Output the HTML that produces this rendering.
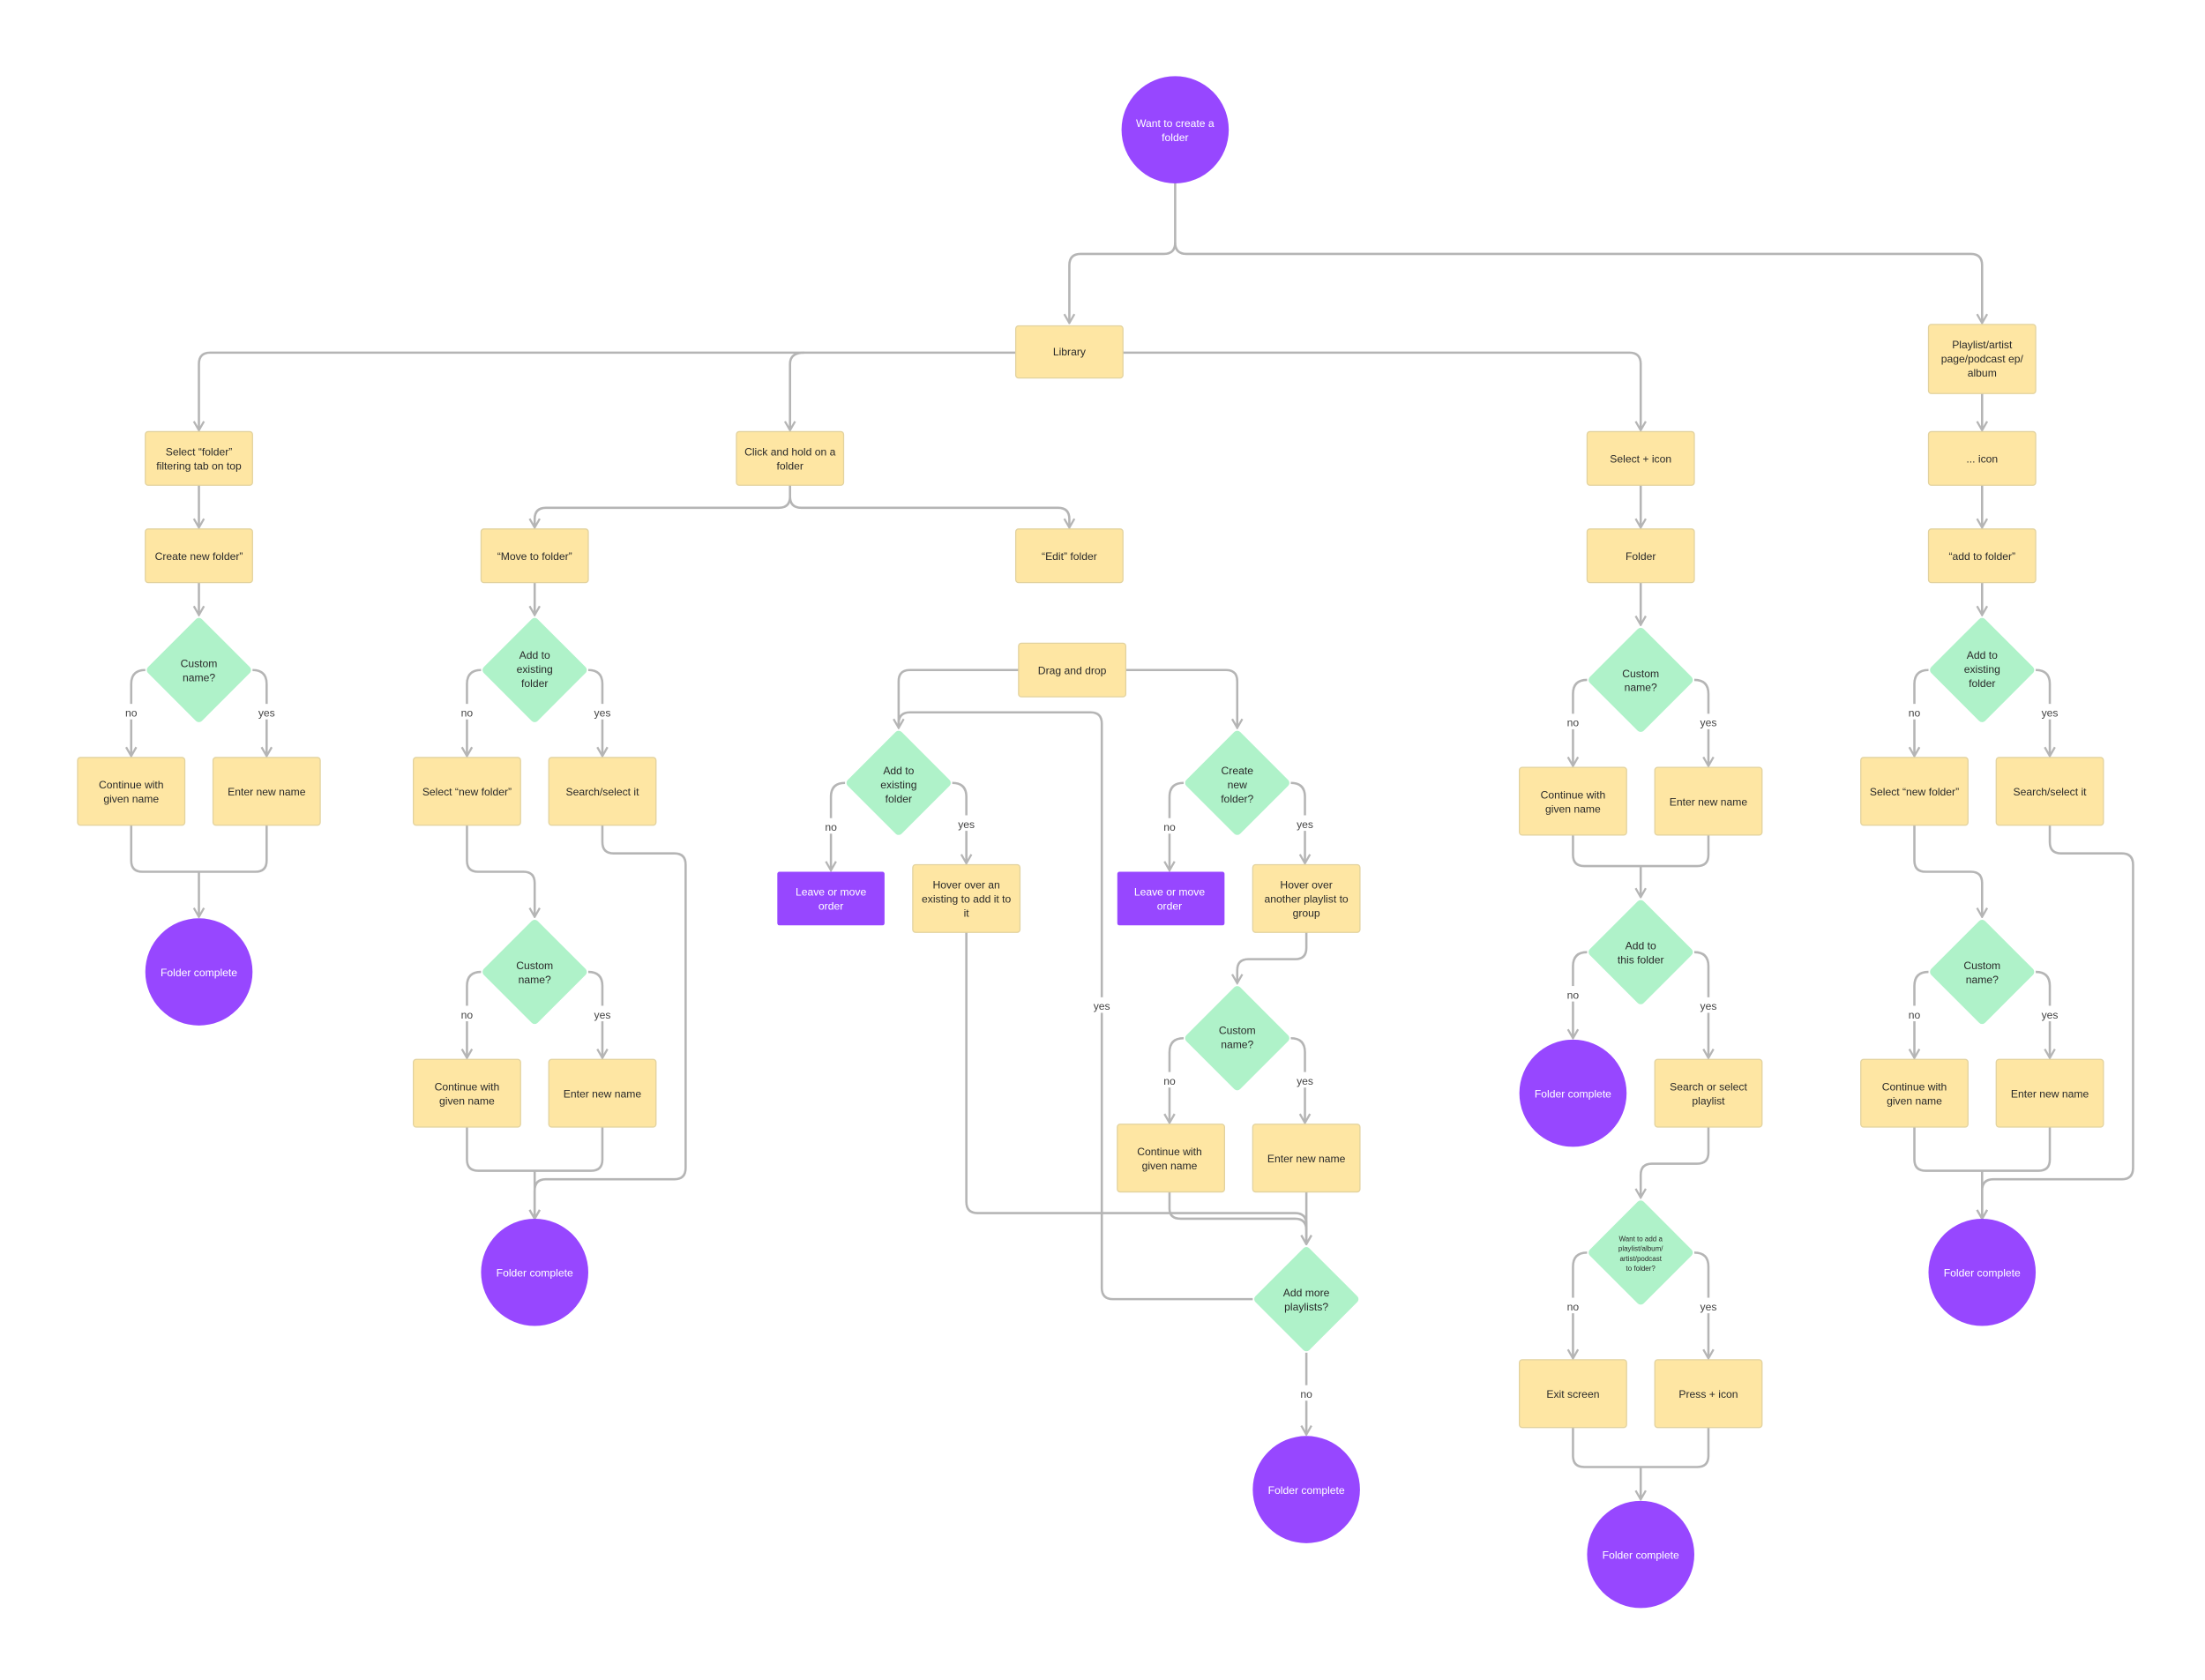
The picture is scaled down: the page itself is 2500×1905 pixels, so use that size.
<!DOCTYPE html>
<html><head><meta charset="utf-8"><style>
html,body{margin:0;padding:0;background:#fff;}
svg{display:block;}
text{font-family:"Liberation Sans",sans-serif;font-size:7.6px;fill:#2a2a2a;text-anchor:middle;}
.w{fill:#fff;}
.l{fill:#444;}
</style></head><body>
<svg width="2500" height="1905" viewBox="0 0 1563 1191" xmlns="http://www.w3.org/2000/svg">
<defs>
<marker id="a" viewBox="0 0 10 10" refX="9" refY="5" markerWidth="9" markerHeight="9" markerUnits="userSpaceOnUse" orient="auto">
<path d="M2,1 L9,5 L2,9" fill="none" stroke="#b5b5b5" stroke-width="1.6"/>
</marker>
</defs>
<rect width="1563" height="1191" fill="#fff"/>
<g fill="none" stroke="#b5b5b5" stroke-width="1.6" stroke-linejoin="round">
<path d="M833,130 V172 Q833,180 825,180 H766 Q758,180 758,188 V229" marker-end="url(#a)"/>
<path d="M833,172 Q833,180 841,180 H1397 Q1405,180 1405,188 V229" marker-end="url(#a)"/>
<path d="M720,250 H149 Q141,250 141,258 V305" marker-end="url(#a)"/>
<path d="M570,250 Q560,250 560,258 V305" marker-end="url(#a)"/>
<path d="M796,250 H1155 Q1163,250 1163,258 V305" marker-end="url(#a)"/>
<!-- col1 -->
<path d="M141,344 V374" marker-end="url(#a)"/>
<path d="M141,413 V436" marker-end="url(#a)"/>
<path d="M103,475 Q93,475 93,485 V536" marker-end="url(#a)"/>
<path d="M179,475 Q189,475 189,485 V536" marker-end="url(#a)"/>
<path d="M93,585 V610 Q93,618 101,618 H181 Q189,618 189,610 V585"/>
<path d="M141,618 V650" marker-end="url(#a)"/>
<!-- col2 -->
<path d="M560,344 V352 Q560,360 552,360 H387 Q379,360 379,368 V374" marker-end="url(#a)"/>
<path d="M560,352 Q560,360 568,360 H750 Q758,360 758,368 V374" marker-end="url(#a)"/>
<path d="M379,413 V436" marker-end="url(#a)"/>
<path d="M341,475 Q331,475 331,485 V536" marker-end="url(#a)"/>
<path d="M417,475 Q427,475 427,485 V536" marker-end="url(#a)"/>
<path d="M331,585 V610 Q331,618 339,618 H371 Q379,618 379,626 V650" marker-end="url(#a)"/>
<path d="M427,585 V597 Q427,605 435,605 H478 Q486,605 486,613 V828 Q486,836 478,836 H387 Q379,836 379,844 V864" marker-end="url(#a)"/>
<path d="M341,689 Q331,689 331,699 V750" marker-end="url(#a)"/>
<path d="M417,689 Q427,689 427,699 V750" marker-end="url(#a)"/>
<path d="M331,799 V822 Q331,830 339,830 H419 Q427,830 427,822 V799"/>
<path d="M379,830 V864" marker-end="url(#a)"/>
<!-- middle -->
<path d="M722,475 H645 Q637,475 637,483 V516" marker-end="url(#a)"/>
<path d="M798,475 H869 Q877,475 877,483 V516" marker-end="url(#a)"/>
<path d="M599,555 Q589,555 589,565 V617" marker-end="url(#a)"/>
<path d="M675,555 Q685,555 685,565 V612" marker-end="url(#a)"/>
<path d="M839,555 Q829,555 829,565 V617" marker-end="url(#a)"/>
<path d="M915,555 Q925,555 925,565 V612" marker-end="url(#a)"/>
<path d="M926,661 V672 Q926,680 918,680 H885 Q877,680 877,688 V697" marker-end="url(#a)"/>
<path d="M839,736 Q829,736 829,746 V796" marker-end="url(#a)"/>
<path d="M915,736 Q925,736 925,746 V796" marker-end="url(#a)"/>
<path d="M685,661 V852 Q685,860 693,860 H918 Q926,860 926,868 V882" marker-end="url(#a)"/>
<path d="M829,845 V857 Q829,864 837,864 H918 Q926,864 926,872"/>
<path d="M926,845 V882" marker-end="url(#a)"/>
<path d="M888,921 H789 Q781,921 781,913 V513 Q781,505 773,505 H645 Q637,505 637,513"/>
<path d="M926,959 V1017" marker-end="url(#a)"/>
<!-- right1 -->
<path d="M1163,344 V374" marker-end="url(#a)"/>
<path d="M1163,413 V443" marker-end="url(#a)"/>
<path d="M1125,482 Q1115,482 1115,492 V543" marker-end="url(#a)"/>
<path d="M1201,482 Q1211,482 1211,492 V543" marker-end="url(#a)"/>
<path d="M1115,592 V606 Q1115,614 1123,614 H1203 Q1211,614 1211,606 V592"/>
<path d="M1163,614 V636" marker-end="url(#a)"/>
<path d="M1125,675 Q1115,675 1115,685 V736" marker-end="url(#a)"/>
<path d="M1201,675 Q1211,675 1211,685 V750" marker-end="url(#a)"/>
<path d="M1211,799 V817 Q1211,825 1203,825 H1171 Q1163,825 1163,833 V849" marker-end="url(#a)"/>
<path d="M1125,888 Q1115,888 1115,898 V963" marker-end="url(#a)"/>
<path d="M1201,888 Q1211,888 1211,898 V963" marker-end="url(#a)"/>
<path d="M1115,1012 V1032 Q1115,1040 1123,1040 H1203 Q1211,1040 1211,1032 V1012"/>
<path d="M1163,1040 V1063" marker-end="url(#a)"/>
<!-- right2 -->
<path d="M1405,279 V305" marker-end="url(#a)"/>
<path d="M1405,344 V374" marker-end="url(#a)"/>
<path d="M1405,413 V436" marker-end="url(#a)"/>
<path d="M1367,475 Q1357,475 1357,485 V536" marker-end="url(#a)"/>
<path d="M1443,475 Q1453,475 1453,485 V536" marker-end="url(#a)"/>
<path d="M1357,585 V610 Q1357,618 1365,618 H1397 Q1405,618 1405,626 V650" marker-end="url(#a)"/>
<path d="M1453,585 V597 Q1453,605 1461,605 H1504 Q1512,605 1512,613 V828 Q1512,836 1504,836 H1413 Q1405,836 1405,844 V864" marker-end="url(#a)"/>
<path d="M1367,689 Q1357,689 1357,699 V750" marker-end="url(#a)"/>
<path d="M1443,689 Q1453,689 1453,699 V750" marker-end="url(#a)"/>
<path d="M1357,799 V822 Q1357,830 1365,830 H1445 Q1453,830 1453,822 V799"/>
<path d="M1405,830 V864" marker-end="url(#a)"/>
</g>

<!-- edge labels -->
<g>
<rect class="w" x="84" y="499" width="18" height="11"/><text class="l" x="93" y="508">no</text>
<rect class="w" x="180" y="499" width="18" height="11"/><text class="l" x="189" y="508">yes</text>
<rect class="w" x="322" y="499" width="18" height="11"/><text class="l" x="331" y="508">no</text>
<rect class="w" x="418" y="499" width="18" height="11"/><text class="l" x="427" y="508">yes</text>
<rect class="w" x="322" y="713" width="18" height="11"/><text class="l" x="331" y="722">no</text>
<rect class="w" x="418" y="713" width="18" height="11"/><text class="l" x="427" y="722">yes</text>
<rect class="w" x="580" y="580" width="18" height="11"/><text class="l" x="589" y="589">no</text>
<rect class="w" x="676" y="578" width="18" height="11"/><text class="l" x="685" y="587">yes</text>
<rect class="w" x="820" y="580" width="18" height="11"/><text class="l" x="829" y="589">no</text>
<rect class="w" x="916" y="578" width="18" height="11"/><text class="l" x="925" y="587">yes</text>
<rect class="w" x="820" y="760" width="18" height="11"/><text class="l" x="829" y="769">no</text>
<rect class="w" x="916" y="760" width="18" height="11"/><text class="l" x="925" y="769">yes</text>
<rect class="w" x="772" y="707" width="18" height="11"/><text class="l" x="781" y="716">yes</text>
<rect class="w" x="917" y="982" width="18" height="11"/><text class="l" x="926" y="991">no</text>
<rect class="w" x="1106" y="506" width="18" height="11"/><text class="l" x="1115" y="515">no</text>
<rect class="w" x="1202" y="506" width="18" height="11"/><text class="l" x="1211" y="515">yes</text>
<rect class="w" x="1106" y="699" width="18" height="11"/><text class="l" x="1115" y="708">no</text>
<rect class="w" x="1202" y="707" width="18" height="11"/><text class="l" x="1211" y="716">yes</text>
<rect class="w" x="1106" y="920" width="18" height="11"/><text class="l" x="1115" y="929">no</text>
<rect class="w" x="1202" y="920" width="18" height="11"/><text class="l" x="1211" y="929">yes</text>
<rect class="w" x="1348" y="499" width="18" height="11"/><text class="l" x="1357" y="508">no</text>
<rect class="w" x="1444" y="499" width="18" height="11"/><text class="l" x="1453" y="508">yes</text>
<rect class="w" x="1348" y="713" width="18" height="11"/><text class="l" x="1357" y="722">no</text>
<rect class="w" x="1444" y="713" width="18" height="11"/><text class="l" x="1453" y="722">yes</text>
</g>

<!-- yellow boxes -->
<g fill="#fee6a3" stroke="#e2d29e" stroke-width="0.8">
<rect x="720" y="231" width="76" height="37" rx="2"/>
<rect x="1367" y="230" width="76" height="49" rx="2"/>
<rect x="103" y="306" width="76" height="38" rx="2"/>
<rect x="103" y="375" width="76" height="38" rx="2"/>
<rect x="55" y="537" width="76" height="48" rx="2"/>
<rect x="151" y="537" width="76" height="48" rx="2"/>
<rect x="522" y="306" width="76" height="38" rx="2"/>
<rect x="341" y="375" width="76" height="38" rx="2"/>
<rect x="720" y="375" width="76" height="38" rx="2"/>
<rect x="293" y="537" width="76" height="48" rx="2"/>
<rect x="389" y="537" width="76" height="48" rx="2"/>
<rect x="293" y="751" width="76" height="48" rx="2"/>
<rect x="389" y="751" width="76" height="48" rx="2"/>
<rect x="722" y="456" width="76" height="38" rx="2"/>
<rect x="647" y="613" width="76" height="48" rx="2"/>
<rect x="888" y="613" width="76" height="48" rx="2"/>
<rect x="792" y="797" width="76" height="48" rx="2"/>
<rect x="888" y="797" width="76" height="48" rx="2"/>
<rect x="1125" y="306" width="76" height="38" rx="2"/>
<rect x="1125" y="375" width="76" height="38" rx="2"/>
<rect x="1077" y="544" width="76" height="48" rx="2"/>
<rect x="1173" y="544" width="76" height="48" rx="2"/>
<rect x="1173" y="751" width="76" height="48" rx="2"/>
<rect x="1077" y="964" width="76" height="48" rx="2"/>
<rect x="1173" y="964" width="76" height="48" rx="2"/>
<rect x="1367" y="306" width="76" height="38" rx="2"/>
<rect x="1367" y="375" width="76" height="38" rx="2"/>
<rect x="1319" y="537" width="76" height="48" rx="2"/>
<rect x="1415" y="537" width="76" height="48" rx="2"/>
<rect x="1319" y="751" width="76" height="48" rx="2"/>
<rect x="1415" y="751" width="76" height="48" rx="2"/>
</g>
<!-- purple boxes -->
<g fill="#9747ff">
<rect x="551" y="618" width="76" height="38" rx="1.5"/>
<rect x="792" y="618" width="76" height="38" rx="1.5"/>
</g>
<!-- diamonds -->
<g fill="#aff2c9">
<rect x="-27" y="-27" width="54" height="54" rx="3" transform="translate(141,475) rotate(45)"/>
<rect x="-27" y="-27" width="54" height="54" rx="3" transform="translate(379,475) rotate(45)"/>
<rect x="-27" y="-27" width="54" height="54" rx="3" transform="translate(379,689) rotate(45)"/>
<rect x="-27" y="-27" width="54" height="54" rx="3" transform="translate(637,555) rotate(45)"/>
<rect x="-27" y="-27" width="54" height="54" rx="3" transform="translate(877,555) rotate(45)"/>
<rect x="-27" y="-27" width="54" height="54" rx="3" transform="translate(877,736) rotate(45)"/>
<rect x="-27" y="-27" width="54" height="54" rx="3" transform="translate(926,921) rotate(45)"/>
<rect x="-27" y="-27" width="54" height="54" rx="3" transform="translate(1163,482) rotate(45)"/>
<rect x="-27" y="-27" width="54" height="54" rx="3" transform="translate(1163,675) rotate(45)"/>
<rect x="-27" y="-27" width="54" height="54" rx="3" transform="translate(1163,888) rotate(45)"/>
<rect x="-27" y="-27" width="54" height="54" rx="3" transform="translate(1405,475) rotate(45)"/>
<rect x="-27" y="-27" width="54" height="54" rx="3" transform="translate(1405,689) rotate(45)"/>
</g>
<!-- circles -->
<g fill="#9747ff">
<circle cx="833" cy="92" r="38"/>
<circle cx="141" cy="689" r="38"/>
<circle cx="379" cy="902" r="38"/>
<circle cx="926" cy="1056" r="38"/>
<circle cx="1115" cy="775" r="38"/>
<circle cx="1163" cy="1102" r="38"/>
<circle cx="1405" cy="902" r="38"/>
</g>

<!-- texts -->
<g style="fill:#fff">
<text x="833" y="90" style="fill:#fff">Want to create a</text>
<text x="833" y="100" style="fill:#fff">folder</text>
<text x="141" y="692" style="fill:#fff">Folder complete</text>
<text x="379" y="905" style="fill:#fff">Folder complete</text>
<text x="926" y="1059" style="fill:#fff">Folder complete</text>
<text x="1115" y="778" style="fill:#fff">Folder complete</text>
<text x="1163" y="1105" style="fill:#fff">Folder complete</text>
<text x="1405" y="905" style="fill:#fff">Folder complete</text>
<text x="589" y="635" style="fill:#fff">Leave or move</text>
<text x="589" y="645" style="fill:#fff">order</text>
<text x="829" y="635" style="fill:#fff">Leave or move</text>
<text x="829" y="645" style="fill:#fff">order</text>
</g>
<g>
<text x="758" y="252">Library</text>
<text x="1405" y="247">Playlist/artist</text>
<text x="1405" y="257">page/podcast ep/</text>
<text x="1405" y="267">album</text>
<text x="141" y="323">Select “folder”</text>
<text x="141" y="333">filtering tab on top</text>
<text x="141" y="397">Create new folder”</text>
<text x="141" y="473">Custom</text>
<text x="141" y="483">name?</text>
<text x="93" y="559">Continue with</text>
<text x="93" y="569">given name</text>
<text x="189" y="564">Enter new name</text>
<text x="560" y="323">Click and hold on a</text>
<text x="560" y="333">folder</text>
<text x="379" y="397">“Move to folder”</text>
<text x="758" y="397">“Edit” folder</text>
<text x="379" y="467">Add to</text>
<text x="379" y="477">existing</text>
<text x="379" y="487">folder</text>
<text x="331" y="564">Select “new folder”</text>
<text x="427" y="564">Search/select it</text>
<text x="379" y="687">Custom</text>
<text x="379" y="697">name?</text>
<text x="331" y="773">Continue with</text>
<text x="331" y="783">given name</text>
<text x="427" y="778">Enter new name</text>
<text x="760" y="478">Drag and drop</text>
<text x="637" y="549">Add to</text>
<text x="637" y="559">existing</text>
<text x="637" y="569">folder</text>
<text x="877" y="549">Create</text>
<text x="877" y="559">new</text>
<text x="877" y="569">folder?</text>
<text x="685" y="630">Hover over an</text>
<text x="685" y="640">existing to add it to</text>
<text x="685" y="650">it</text>
<text x="926" y="630">Hover over</text>
<text x="926" y="640">another playlist to</text>
<text x="926" y="650">group</text>
<text x="877" y="733">Custom</text>
<text x="877" y="743">name?</text>
<text x="829" y="819">Continue with</text>
<text x="829" y="829">given name</text>
<text x="926" y="824">Enter new name</text>
<text x="926" y="919">Add more</text>
<text x="926" y="929">playlists?</text>
<text x="1163" y="328">Select + icon</text>
<text x="1163" y="397">Folder</text>
<text x="1163" y="480">Custom</text>
<text x="1163" y="490">name?</text>
<text x="1115" y="566">Continue with</text>
<text x="1115" y="576">given name</text>
<text x="1211" y="571">Enter new name</text>
<text x="1163" y="673">Add to</text>
<text x="1163" y="683">this folder</text>
<text x="1211" y="773">Search or select</text>
<text x="1211" y="783">playlist</text>
<text x="1163" y="880" style="font-size:5px">Want to add a</text>
<text x="1163" y="887" style="font-size:5px">playlist/album/</text>
<text x="1163" y="894" style="font-size:5px">artist/podcast</text>
<text x="1163" y="901" style="font-size:5px">to folder?</text>
<text x="1115" y="991">Exit screen</text>
<text x="1211" y="991">Press + icon</text>
<text x="1405" y="328">... icon</text>
<text x="1405" y="397">“add to folder”</text>
<text x="1405" y="467">Add to</text>
<text x="1405" y="477">existing</text>
<text x="1405" y="487">folder</text>
<text x="1357" y="564">Select “new folder”</text>
<text x="1453" y="564">Search/select it</text>
<text x="1405" y="687">Custom</text>
<text x="1405" y="697">name?</text>
<text x="1357" y="773">Continue with</text>
<text x="1357" y="783">given name</text>
<text x="1453" y="778">Enter new name</text>
</g>
</svg>
</body></html>
